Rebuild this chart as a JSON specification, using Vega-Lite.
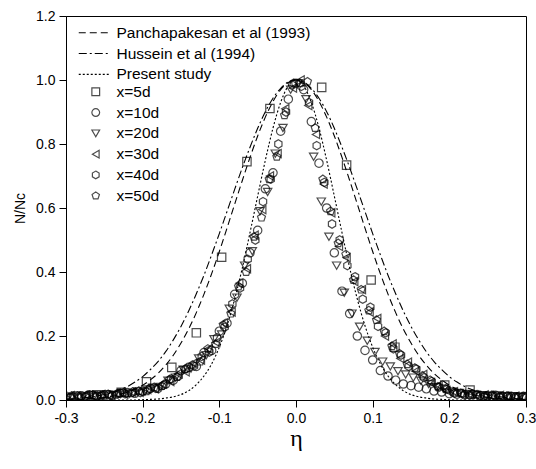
{
  "$schema": "https://vega.github.io/schema/vega-lite/v6.json",
  "width": 460,
  "height": 384,
  "autosize": "none",
  "padding": {"left": 66, "top": 16, "right": 10, "bottom": 69},
  "background": "white",
  "config": {
    "view": {"stroke": "black", "strokeWidth": 1},
    "font": "Liberation Sans",
    "axis": {"grid": false, "domainColor": "black", "tickColor": "black", "tickWidth": 1, "labelColor": "black", "labelFont": "Liberation Sans", "labelFontSize": 14, "titleColor": "black", "labelOverlap": false, "labelFlush": false}
  },
  "datasets": {
    "curves": [
      {"e": -0.30, "S": 0, "P": 0.001, "H": 0.003},
      {"e": -0.29, "S": 0, "P": 0.002, "H": 0.004},
      {"e": -0.28, "S": 0, "P": 0.002, "H": 0.006},
      {"e": -0.27, "S": 0, "P": 0.004, "H": 0.009},
      {"e": -0.26, "S": 0, "P": 0.006, "H": 0.012},
      {"e": -0.25, "S": 0, "P": 0.008, "H": 0.017},
      {"e": -0.24, "S": 0, "P": 0.012, "H": 0.023},
      {"e": -0.23, "S": 0, "P": 0.017, "H": 0.032},
      {"e": -0.22, "S": 0, "P": 0.024, "H": 0.042},
      {"e": -0.21, "S": 0, "P": 0.034, "H": 0.056},
      {"e": -0.20, "S": 0.001, "P": 0.046, "H": 0.073},
      {"e": -0.19, "S": 0.002, "P": 0.063, "H": 0.095},
      {"e": -0.18, "S": 0.003, "P": 0.083, "H": 0.120},
      {"e": -0.17, "S": 0.006, "P": 0.109, "H": 0.151},
      {"e": -0.16, "S": 0.010, "P": 0.140, "H": 0.188},
      {"e": -0.15, "S": 0.017, "P": 0.178, "H": 0.230},
      {"e": -0.14, "S": 0.029, "P": 0.222, "H": 0.278},
      {"e": -0.13, "S": 0.048, "P": 0.273, "H": 0.332},
      {"e": -0.12, "S": 0.075, "P": 0.331, "H": 0.390},
      {"e": -0.11, "S": 0.113, "P": 0.395, "H": 0.454},
      {"e": -0.10, "S": 0.165, "P": 0.464, "H": 0.520},
      {"e": -0.09, "S": 0.232, "P": 0.537, "H": 0.589},
      {"e": -0.08, "S": 0.315, "P": 0.612, "H": 0.658},
      {"e": -0.07, "S": 0.413, "P": 0.686, "H": 0.726},
      {"e": -0.06, "S": 0.523, "P": 0.758, "H": 0.790},
      {"e": -0.05, "S": 0.637, "P": 0.825, "H": 0.849},
      {"e": -0.04, "S": 0.749, "P": 0.884, "H": 0.901},
      {"e": -0.03, "S": 0.850, "P": 0.933, "H": 0.943},
      {"e": -0.02, "S": 0.930, "P": 0.970, "H": 0.974},
      {"e": -0.01, "S": 0.982, "P": 0.992, "H": 0.994},
      {"e": 0.00, "S": 1.0, "P": 1.0, "H": 1.0},
      {"e": 0.01, "S": 0.982, "P": 0.992, "H": 0.994},
      {"e": 0.02, "S": 0.930, "P": 0.970, "H": 0.974},
      {"e": 0.03, "S": 0.850, "P": 0.933, "H": 0.943},
      {"e": 0.04, "S": 0.749, "P": 0.884, "H": 0.901},
      {"e": 0.05, "S": 0.637, "P": 0.825, "H": 0.849},
      {"e": 0.06, "S": 0.523, "P": 0.758, "H": 0.790},
      {"e": 0.07, "S": 0.413, "P": 0.686, "H": 0.726},
      {"e": 0.08, "S": 0.315, "P": 0.612, "H": 0.658},
      {"e": 0.09, "S": 0.232, "P": 0.537, "H": 0.589},
      {"e": 0.10, "S": 0.165, "P": 0.464, "H": 0.520},
      {"e": 0.11, "S": 0.113, "P": 0.395, "H": 0.454},
      {"e": 0.12, "S": 0.075, "P": 0.331, "H": 0.390},
      {"e": 0.13, "S": 0.048, "P": 0.273, "H": 0.332},
      {"e": 0.14, "S": 0.029, "P": 0.222, "H": 0.278},
      {"e": 0.15, "S": 0.017, "P": 0.178, "H": 0.230},
      {"e": 0.16, "S": 0.010, "P": 0.140, "H": 0.188},
      {"e": 0.17, "S": 0.006, "P": 0.109, "H": 0.151},
      {"e": 0.18, "S": 0.003, "P": 0.083, "H": 0.120},
      {"e": 0.19, "S": 0.002, "P": 0.063, "H": 0.095},
      {"e": 0.20, "S": 0.001, "P": 0.046, "H": 0.073},
      {"e": 0.21, "S": 0, "P": 0.034, "H": 0.056},
      {"e": 0.22, "S": 0, "P": 0.024, "H": 0.042},
      {"e": 0.23, "S": 0, "P": 0.017, "H": 0.032},
      {"e": 0.24, "S": 0, "P": 0.012, "H": 0.023},
      {"e": 0.25, "S": 0, "P": 0.008, "H": 0.017},
      {"e": 0.26, "S": 0, "P": 0.006, "H": 0.012},
      {"e": 0.27, "S": 0, "P": 0.004, "H": 0.009},
      {"e": 0.28, "S": 0, "P": 0.002, "H": 0.006},
      {"e": 0.29, "S": 0, "P": 0.002, "H": 0.004},
      {"e": 0.30, "S": 0, "P": 0.001, "H": 0.003}
    ],
    "points": [
      {"s":5,"e":-0.26,"v":0.016},{"s":5,"e":-0.228,"v":0.024},{"s":5,"e":-0.195,"v":0.057},{"s":5,"e":-0.162,"v":0.102},{"s":5,"e":-0.13,"v":0.21},{"s":5,"e":-0.097,"v":0.446},{"s":5,"e":-0.064,"v":0.745},{"s":5,"e":-0.034,"v":0.911},{"s":5,"e":0.0335,"v":0.977},{"s":5,"e":0.066,"v":0.734},{"s":5,"e":0.098,"v":0.375},{"s":5,"e":0.129,"v":0.165},{"s":5,"e":0.194,"v":0.047},{"s":5,"e":0.227,"v":0.031},

      {"s":10,"e":-0.30,"v":0.012},{"s":10,"e":-0.29,"v":0.009},{"s":10,"e":-0.28,"v":0.013},{"s":10,"e":-0.27,"v":0.016},{"s":10,"e":-0.26,"v":0.012},{"s":10,"e":-0.25,"v":0.015},{"s":10,"e":-0.24,"v":0.014},{"s":10,"e":-0.23,"v":0.021},{"s":10,"e":-0.22,"v":0.023},{"s":10,"e":-0.21,"v":0.021},{"s":10,"e":-0.20,"v":0.028},{"s":10,"e":-0.19,"v":0.036},{"s":10,"e":-0.18,"v":0.036},{"s":10,"e":-0.17,"v":0.05},{"s":10,"e":-0.16,"v":0.062},{"s":10,"e":-0.15,"v":0.092},{"s":10,"e":-0.14,"v":0.102},{"s":10,"e":-0.13,"v":0.105},{"s":10,"e":-0.12,"v":0.148},{"s":10,"e":-0.11,"v":0.155},{"s":10,"e":-0.10,"v":0.215},{"s":10,"e":-0.09,"v":0.24},{"s":10,"e":-0.08,"v":0.33},{"s":10,"e":-0.07,"v":0.365},{"s":10,"e":-0.06,"v":0.46},{"s":10,"e":-0.05,"v":0.53},{"s":10,"e":-0.04,"v":0.66},{"s":10,"e":-0.03,"v":0.71},{"s":10,"e":-0.02,"v":0.84},{"s":10,"e":-0.01,"v":0.94},{"s":10,"e":0.0,"v":0.99},{"s":10,"e":0.01,"v":0.97},{"s":10,"e":0.02,"v":0.87},{"s":10,"e":0.03,"v":0.74},{"s":10,"e":0.04,"v":0.6},{"s":10,"e":0.05,"v":0.46},{"s":10,"e":0.06,"v":0.34},{"s":10,"e":0.07,"v":0.27},{"s":10,"e":0.08,"v":0.2},{"s":10,"e":0.09,"v":0.155},{"s":10,"e":0.10,"v":0.125},{"s":10,"e":0.11,"v":0.092},{"s":10,"e":0.12,"v":0.075},{"s":10,"e":0.13,"v":0.062},{"s":10,"e":0.14,"v":0.05},{"s":10,"e":0.15,"v":0.045},{"s":10,"e":0.16,"v":0.04},{"s":10,"e":0.17,"v":0.035},{"s":10,"e":0.18,"v":0.028},{"s":10,"e":0.19,"v":0.025},{"s":10,"e":0.20,"v":0.02},{"s":10,"e":0.21,"v":0.018},{"s":10,"e":0.22,"v":0.016},{"s":10,"e":0.23,"v":0.017},{"s":10,"e":0.24,"v":0.014},{"s":10,"e":0.25,"v":0.013},{"s":10,"e":0.26,"v":0.015},{"s":10,"e":0.27,"v":0.011},{"s":10,"e":0.28,"v":0.012},{"s":10,"e":0.29,"v":0.009},{"s":10,"e":0.30,"v":0.011},

      {"s":20,"e":-0.297,"v":0.008},{"s":20,"e":-0.287,"v":0.014},{"s":20,"e":-0.277,"v":0.011},{"s":20,"e":-0.267,"v":0.015},{"s":20,"e":-0.257,"v":0.013},{"s":20,"e":-0.247,"v":0.018},{"s":20,"e":-0.237,"v":0.016},{"s":20,"e":-0.227,"v":0.022},{"s":20,"e":-0.217,"v":0.02},{"s":20,"e":-0.207,"v":0.027},{"s":20,"e":-0.197,"v":0.026},{"s":20,"e":-0.187,"v":0.038},{"s":20,"e":-0.177,"v":0.041},{"s":20,"e":-0.167,"v":0.06},{"s":20,"e":-0.157,"v":0.07},{"s":20,"e":-0.147,"v":0.095},{"s":20,"e":-0.137,"v":0.098},{"s":20,"e":-0.127,"v":0.13},{"s":20,"e":-0.117,"v":0.14},{"s":20,"e":-0.107,"v":0.19},{"s":20,"e":-0.097,"v":0.205},{"s":20,"e":-0.087,"v":0.285},{"s":20,"e":-0.077,"v":0.32},{"s":20,"e":-0.067,"v":0.42},{"s":20,"e":-0.057,"v":0.465},{"s":20,"e":-0.047,"v":0.59},{"s":20,"e":-0.037,"v":0.65},{"s":20,"e":-0.027,"v":0.77},{"s":20,"e":-0.017,"v":0.85},{"s":20,"e":-0.007,"v":0.97},{"s":20,"e":0.003,"v":0.99},{"s":20,"e":0.013,"v":0.94},{"s":20,"e":0.023,"v":0.76},{"s":20,"e":0.033,"v":0.62},{"s":20,"e":0.043,"v":0.51},{"s":20,"e":0.053,"v":0.42},{"s":20,"e":0.063,"v":0.335},{"s":20,"e":0.073,"v":0.27},{"s":20,"e":0.083,"v":0.229},{"s":20,"e":0.093,"v":0.185},{"s":20,"e":0.103,"v":0.15},{"s":20,"e":0.113,"v":0.12},{"s":20,"e":0.123,"v":0.105},{"s":20,"e":0.133,"v":0.09},{"s":20,"e":0.143,"v":0.08},{"s":20,"e":0.153,"v":0.07},{"s":20,"e":0.163,"v":0.06},{"s":20,"e":0.173,"v":0.05},{"s":20,"e":0.183,"v":0.04},{"s":20,"e":0.193,"v":0.035},{"s":20,"e":0.203,"v":0.026},{"s":20,"e":0.213,"v":0.022},{"s":20,"e":0.223,"v":0.019},{"s":20,"e":0.233,"v":0.016},{"s":20,"e":0.243,"v":0.015},{"s":20,"e":0.253,"v":0.012},{"s":20,"e":0.263,"v":0.014},{"s":20,"e":0.273,"v":0.011},{"s":20,"e":0.283,"v":0.012},{"s":20,"e":0.293,"v":0.01},

      {"s":30,"e":-0.294,"v":0.013},{"s":30,"e":-0.284,"v":0.01},{"s":30,"e":-0.274,"v":0.015},{"s":30,"e":-0.264,"v":0.012},{"s":30,"e":-0.254,"v":0.017},{"s":30,"e":-0.244,"v":0.014},{"s":30,"e":-0.234,"v":0.02},{"s":30,"e":-0.224,"v":0.018},{"s":30,"e":-0.214,"v":0.025},{"s":30,"e":-0.204,"v":0.024},{"s":30,"e":-0.194,"v":0.033},{"s":30,"e":-0.184,"v":0.035},{"s":30,"e":-0.174,"v":0.05},{"s":30,"e":-0.164,"v":0.058},{"s":30,"e":-0.154,"v":0.082},{"s":30,"e":-0.144,"v":0.088},{"s":30,"e":-0.134,"v":0.115},{"s":30,"e":-0.124,"v":0.125},{"s":30,"e":-0.114,"v":0.16},{"s":30,"e":-0.104,"v":0.18},{"s":30,"e":-0.094,"v":0.24},{"s":30,"e":-0.084,"v":0.275},{"s":30,"e":-0.074,"v":0.365},{"s":30,"e":-0.064,"v":0.41},{"s":30,"e":-0.054,"v":0.515},{"s":30,"e":-0.044,"v":0.595},{"s":30,"e":-0.034,"v":0.7},{"s":30,"e":-0.024,"v":0.77},{"s":30,"e":-0.014,"v":0.91},{"s":30,"e":-0.004,"v":0.975},{"s":30,"e":0.006,"v":1.0},{"s":30,"e":0.016,"v":0.92},{"s":30,"e":0.026,"v":0.83},{"s":30,"e":0.036,"v":0.675},{"s":30,"e":0.046,"v":0.585},{"s":30,"e":0.056,"v":0.48},{"s":30,"e":0.066,"v":0.445},{"s":30,"e":0.076,"v":0.37},{"s":30,"e":0.086,"v":0.345},{"s":30,"e":0.096,"v":0.275},{"s":30,"e":0.106,"v":0.255},{"s":30,"e":0.116,"v":0.2},{"s":30,"e":0.126,"v":0.175},{"s":30,"e":0.136,"v":0.13},{"s":30,"e":0.146,"v":0.118},{"s":30,"e":0.156,"v":0.09},{"s":30,"e":0.166,"v":0.08},{"s":30,"e":0.176,"v":0.055},{"s":30,"e":0.186,"v":0.046},{"s":30,"e":0.196,"v":0.03},{"s":30,"e":0.206,"v":0.026},{"s":30,"e":0.216,"v":0.017},{"s":30,"e":0.226,"v":0.019},{"s":30,"e":0.236,"v":0.014},{"s":30,"e":0.246,"v":0.016},{"s":30,"e":0.256,"v":0.012},{"s":30,"e":0.266,"v":0.014},{"s":30,"e":0.276,"v":0.01},{"s":30,"e":0.286,"v":0.012},{"s":30,"e":0.296,"v":0.009},

      {"s":40,"e":-0.293,"v":0.012},{"s":40,"e":-0.283,"v":0.01},{"s":40,"e":-0.273,"v":0.014},{"s":40,"e":-0.263,"v":0.012},{"s":40,"e":-0.253,"v":0.016},{"s":40,"e":-0.243,"v":0.015},{"s":40,"e":-0.233,"v":0.02},{"s":40,"e":-0.223,"v":0.019},{"s":40,"e":-0.213,"v":0.025},{"s":40,"e":-0.203,"v":0.023},{"s":40,"e":-0.193,"v":0.032},{"s":40,"e":-0.183,"v":0.036},{"s":40,"e":-0.173,"v":0.046},{"s":40,"e":-0.163,"v":0.066},{"s":40,"e":-0.153,"v":0.075},{"s":40,"e":-0.143,"v":0.098},{"s":40,"e":-0.133,"v":0.106},{"s":40,"e":-0.123,"v":0.136},{"s":40,"e":-0.113,"v":0.15},{"s":40,"e":-0.103,"v":0.195},{"s":40,"e":-0.093,"v":0.228},{"s":40,"e":-0.083,"v":0.3},{"s":40,"e":-0.073,"v":0.35},{"s":40,"e":-0.063,"v":0.44},{"s":40,"e":-0.053,"v":0.5},{"s":40,"e":-0.043,"v":0.62},{"s":40,"e":-0.033,"v":0.69},{"s":40,"e":-0.023,"v":0.8},{"s":40,"e":-0.013,"v":0.9},{"s":40,"e":-0.003,"v":0.99},{"s":40,"e":0.007,"v":0.98},{"s":40,"e":0.017,"v":0.93},{"s":40,"e":0.027,"v":0.795},{"s":40,"e":0.037,"v":0.68},{"s":40,"e":0.047,"v":0.55},{"s":40,"e":0.057,"v":0.5},{"s":40,"e":0.067,"v":0.42},{"s":40,"e":0.077,"v":0.385},{"s":40,"e":0.087,"v":0.315},{"s":40,"e":0.097,"v":0.29},{"s":40,"e":0.107,"v":0.23},{"s":40,"e":0.117,"v":0.21},{"s":40,"e":0.127,"v":0.16},{"s":40,"e":0.137,"v":0.14},{"s":40,"e":0.147,"v":0.105},{"s":40,"e":0.157,"v":0.097},{"s":40,"e":0.167,"v":0.07},{"s":40,"e":0.177,"v":0.058},{"s":40,"e":0.187,"v":0.04},{"s":40,"e":0.197,"v":0.033},{"s":40,"e":0.207,"v":0.021},{"s":40,"e":0.217,"v":0.02},{"s":40,"e":0.227,"v":0.015},{"s":40,"e":0.237,"v":0.017},{"s":40,"e":0.247,"v":0.013},{"s":40,"e":0.257,"v":0.015},{"s":40,"e":0.267,"v":0.011},{"s":40,"e":0.277,"v":0.013},{"s":40,"e":0.287,"v":0.01},{"s":40,"e":0.297,"v":0.012},

      {"s":50,"e":-0.295,"v":0.009},{"s":50,"e":-0.285,"v":0.013},{"s":50,"e":-0.275,"v":0.011},{"s":50,"e":-0.265,"v":0.016},{"s":50,"e":-0.255,"v":0.013},{"s":50,"e":-0.245,"v":0.018},{"s":50,"e":-0.235,"v":0.016},{"s":50,"e":-0.225,"v":0.023},{"s":50,"e":-0.215,"v":0.021},{"s":50,"e":-0.205,"v":0.028},{"s":50,"e":-0.195,"v":0.027},{"s":50,"e":-0.185,"v":0.04},{"s":50,"e":-0.175,"v":0.044},{"s":50,"e":-0.165,"v":0.064},{"s":50,"e":-0.155,"v":0.072},{"s":50,"e":-0.145,"v":0.096},{"s":50,"e":-0.135,"v":0.11},{"s":50,"e":-0.125,"v":0.12},{"s":50,"e":-0.115,"v":0.16},{"s":50,"e":-0.105,"v":0.175},{"s":50,"e":-0.095,"v":0.235},{"s":50,"e":-0.085,"v":0.27},{"s":50,"e":-0.075,"v":0.355},{"s":50,"e":-0.065,"v":0.4},{"s":50,"e":-0.055,"v":0.51},{"s":50,"e":-0.045,"v":0.57},{"s":50,"e":-0.035,"v":0.69},{"s":50,"e":-0.025,"v":0.76},{"s":50,"e":-0.015,"v":0.89},{"s":50,"e":-0.005,"v":0.985},{"s":50,"e":0.005,"v":0.99},{"s":50,"e":0.015,"v":0.995},{"s":50,"e":0.025,"v":0.85},{"s":50,"e":0.035,"v":0.69},{"s":50,"e":0.045,"v":0.59},{"s":50,"e":0.055,"v":0.49},{"s":50,"e":0.065,"v":0.455},{"s":50,"e":0.075,"v":0.375},{"s":50,"e":0.085,"v":0.345},{"s":50,"e":0.095,"v":0.28},{"s":50,"e":0.105,"v":0.25},{"s":50,"e":0.115,"v":0.215},{"s":50,"e":0.125,"v":0.168},{"s":50,"e":0.135,"v":0.145},{"s":50,"e":0.145,"v":0.112},{"s":50,"e":0.155,"v":0.1},{"s":50,"e":0.165,"v":0.076},{"s":50,"e":0.175,"v":0.062},{"s":50,"e":0.185,"v":0.042},{"s":50,"e":0.195,"v":0.035},{"s":50,"e":0.205,"v":0.023},{"s":50,"e":0.215,"v":0.021},{"s":50,"e":0.225,"v":0.016},{"s":50,"e":0.235,"v":0.017},{"s":50,"e":0.245,"v":0.013},{"s":50,"e":0.255,"v":0.015},{"s":50,"e":0.265,"v":0.011},{"s":50,"e":0.275,"v":0.013},{"s":50,"e":0.285,"v":0.01},{"s":50,"e":0.295,"v":0.011}
    ]
  },
  "layer": [
    {
      "data": {"name": "curves"},
      "transform": [{"fold": ["P", "H", "S"], "as": ["m", "v"]}],
      "mark": {"type": "line", "color": "black", "strokeWidth": 1.1, "interpolate": "monotone", "clip": true},
      "encoding": {
        "x": {"field": "e", "type": "quantitative", "scale": {"domain": [-0.3, 0.3], "nice": false, "zero": false},
          "axis": {
            "title": "η", "titleFont": "Liberation Serif", "titleFontSize": 24, "titleFontWeight": "normal", "titlePadding": 1,
            "values": [-0.3, -0.25, -0.2, -0.15, -0.1, -0.05, 0, 0.05, 0.1, 0.15, 0.2, 0.25, 0.3],
            "labelExpr": "abs(datum.value*10 - round(datum.value*10)) < 0.001 ? replace(format(datum.value, '.1f'), '−', '-') : ''",
            "tickSize": {"condition": {"test": "abs(datum.value*10 - round(datum.value*10)) < 0.001", "value": 7}, "value": 4},
            "labelPadding": 4
          }},
        "y": {"field": "v", "type": "quantitative", "scale": {"domain": [0, 1.2], "nice": false},
          "axis": {
            "title": "N/Nc", "titleFont": "Liberation Sans", "titleFontSize": 14, "titleFontWeight": "normal", "titlePadding": 8,
            "values": [0, 0.1, 0.2, 0.3, 0.4, 0.5, 0.6, 0.7, 0.8, 0.9, 1.0, 1.1, 1.2],
            "labelExpr": "abs(datum.value*5 - round(datum.value*5)) < 0.001 ? format(datum.value, '.1f') : ''",
            "tickSize": {"condition": {"test": "abs(datum.value*5 - round(datum.value*5)) < 0.001", "value": 7}, "value": 4},
            "labelPadding": 4
          }},
        "strokeDash": {"field": "m", "type": "nominal",
          "scale": {"domain": ["P", "H", "S"], "range": [[7, 4], [8, 3, 2, 3], [2, 2]]},
          "legend": {
            "orient": "none", "legendX": 20, "legendY": 9, "title": null, "padding": 0,
            "symbolType": "M-3.873,0L3.873,0", "symbolSize": 60, "symbolStrokeColor": "black", "symbolStrokeWidth": 1.1, "symbolFillColor": "transparent",
            "labelFont": "Liberation Sans", "labelFontSize": 15.5, "labelColor": "black", "labelOffset": 15, "rowPadding": 3.8, "labelLimit": 0,
            "labelExpr": "datum.label == 'P' ? 'Panchapakesan et al (1993)' : datum.label == 'H' ? 'Hussein et al (1994)' : 'Present study'"
          }}
      }
    },
    {
      "data": {"name": "points"},
      "mark": {"type": "point", "filled": false, "color": "black", "strokeWidth": 1.2, "size": 70, "clip": true},
      "encoding": {
        "x": {"field": "e", "type": "quantitative"},
        "y": {"field": "v", "type": "quantitative"},
        "shape": {"field": "s", "type": "nominal",
          "scale": {"domain": [5, 10, 20, 30, 40, 50], "range": ["square", "circle", "triangle-down", "triangle-left", "M0,-1L0.866,-0.5L0.866,0.5L0,1L-0.866,0.5L-0.866,-0.5Z", "M0,-1L0.951,-0.309L0.588,0.809L-0.588,0.809L-0.951,-0.309Z"]},
          "legend": {
            "orient": "none", "legendX": 22, "legendY": 68, "title": null, "padding": 0,
            "symbolStrokeColor": "black", "symbolFillColor": "transparent", "symbolStrokeWidth": 1.2, "symbolSize": 60,
            "labelFont": "Liberation Sans", "labelFontSize": 15.5, "labelColor": "black", "labelOffset": 13, "rowPadding": 3.8,
            "labelExpr": "'x=' + datum.label + 'd'"
          }}
      }
    }
  ]
}
